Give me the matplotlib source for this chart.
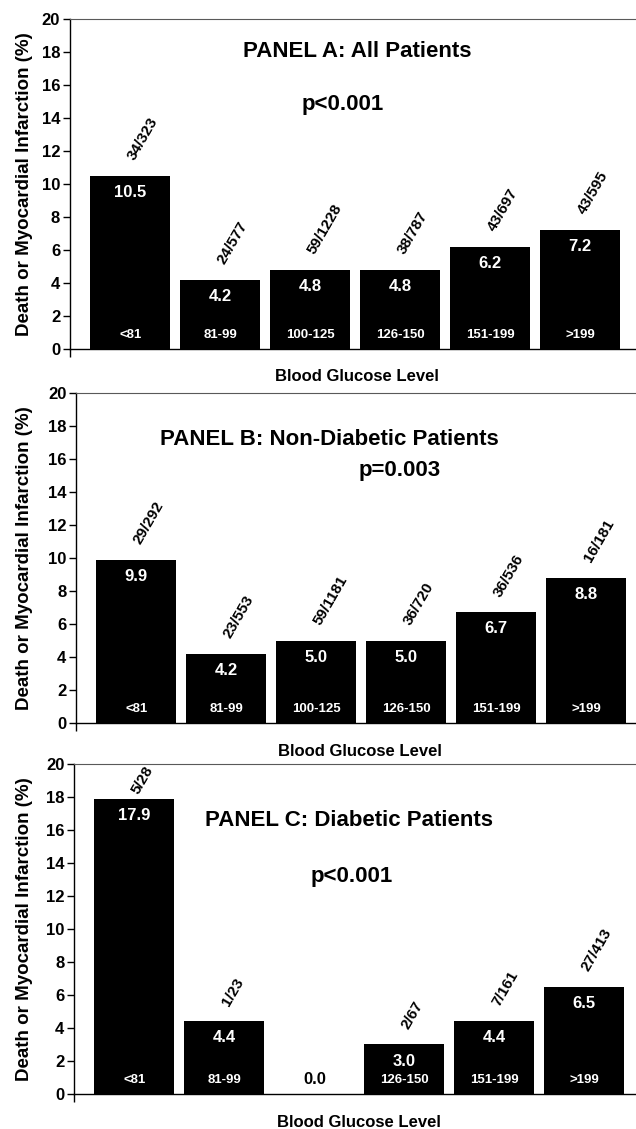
import matplotlib
matplotlib.use("Agg")
import matplotlib.pyplot as plt

plt.rcParams['font.family'] = ['Liberation Sans', 'DejaVu Sans']
plt.rcParams['font.weight'] = 'bold'

glucose = ['<81', '81-99', '100-125', '126-150', '151-199', '>199']

all_pct = [10.5, 4.2, 4.8, 4.8, 6.2, 7.2]
all_n = ['34/323', '24/577', '59/1228', '38/787', '43/697', '43/595']

nondm_pct = [9.9, 4.2, 5.0, 5.0, 6.7, 8.8]
nondm_n = ['29/292', '23/553', '59/1181', '36/720', '36/536', '16/181']

dm_pct = [17.9, 4.4, 0.0, 3.0, 4.4, 6.5]
dm_n = ['5/28', '1/23', '', '2/67', '7/161', '27/413']

panels = [
    # (values, fractions, title, pvalue, axes rect, title xy, p xy)
    (all_pct, all_n, 'PANEL A: All Patients', 'p<0.001',
     [0.110, 0.691, 0.890, 0.2923], (2.52, 18.0), (2.36, 14.8)),
    (nondm_pct, nondm_n, 'PANEL B: Non-Diabetic Patients', 'p=0.003',
     [0.1195, 0.3596, 0.8805, 0.2923], (2.15, 17.2), (2.93, 15.3)),
    (dm_pct, dm_n, 'PANEL C: Diabetic Patients', 'p<0.001',
     [0.1164, 0.0310, 0.8836, 0.2923], (2.39, 16.6), (2.41, 13.2)),
]

fig = plt.figure(figsize=(6.36, 11.29), dpi=100)

slot_px = 90.0
for vals, fracs, title, pval, rect, txy, pxy in panels:
    ax = fig.add_axes(rect)
    x = list(range(len(vals)))
    ax.bar(x, vals, width=0.89, color='black')

    left_px = rect[0] * 636
    width_px = rect[2] * 636
    left = -0.67
    ax.set_xlim(left, left + width_px / slot_px)
    ax.set_ylim(0, 20)
    ax.set_yticks(range(0, 21, 2))
    ax.tick_params(axis='y', direction='out', length=5, width=1, labelsize=12, pad=2)
    for lab in ax.get_yticklabels():
        lab.set_fontweight('bold')
    # small tick at the left end of the x axis
    ax.set_xticks([left])
    ax.set_xticklabels([''])
    ax.tick_params(axis='x', direction='out', length=6, width=1)

    ax.spines['right'].set_visible(False)
    ax.spines['top'].set_color('0.35')
    ax.spines['top'].set_linewidth(0.8)
    ax.spines['left'].set_linewidth(1)
    ax.spines['bottom'].set_linewidth(1)

    for xi, v, frac, cat in zip(x, vals, fracs, glucose):
        if v > 0:
            ax.text(xi, 0.85, cat, color='white', ha='center', va='center',
                    fontsize=9.5, fontweight='bold')
            ax.text(xi, v - 1.0, f'{v:.1f}', color='white', ha='center', va='center',
                    fontsize=12, fontweight='bold')
        else:
            ax.text(xi, 0.85, f'{v:.1f}', color='black', ha='center', va='center',
                    fontsize=12, fontweight='bold')
        if frac:
            off = 0.15 if v > 15 else 0.8
            ax.text(xi + 0.08, v + off, frac, rotation=60, rotation_mode='anchor',
                    ha='left', va='bottom', fontsize=11, fontweight='bold')

    ax.text(txy[0], txy[1], title, ha='center', va='center', fontsize=16, fontweight='bold')
    ax.text(pxy[0], pxy[1], pval, ha='center', va='center', fontsize=16, fontweight='bold')

    ax.set_ylabel('Death or Myocardial Infarction (%)', fontsize=13.5, fontweight='bold')
    ax.yaxis.set_label_coords((33 - left_px) / width_px, 0.5)
    ax.text(0.507, -0.085, 'Blood Glucose Level', transform=ax.transAxes,
            ha='center', va='center', fontsize=12, fontweight='bold')

fig.savefig('out.png', dpi=100)
